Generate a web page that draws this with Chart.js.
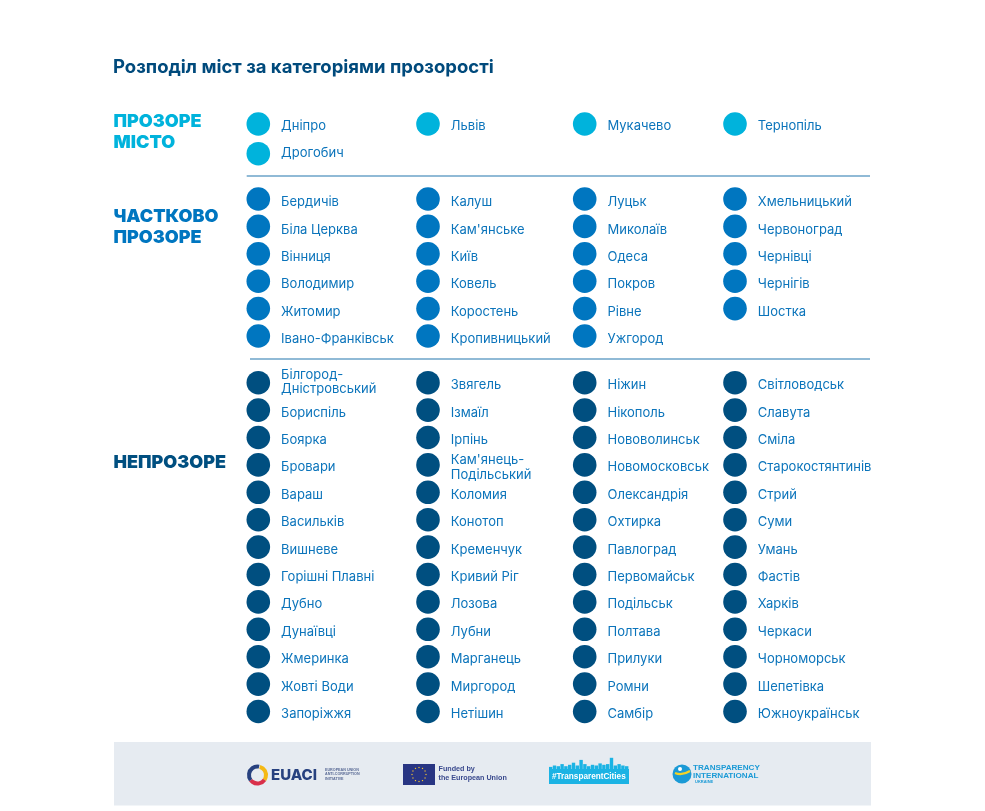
<!DOCTYPE html>
<html lang="uk">
<head>
<meta charset="utf-8">
<title>Розподіл міст за категоріями прозорості</title>
<script src="https://cdn.jsdelivr.net/npm/chart.js@4"></script>
<style>
    html, body { margin: 0; padding: 0; background: #fff; }
    canvas { display: block; }
</style>
</head>
<body>
<canvas id="cities" width="985" height="811"></canvas>
<script>
const chartTitle = 'Розподіл міст за категоріями прозорості';
const categories = [['ПРОЗОРЕ', 'МІСТО'], ['ЧАСТКОВО', 'ПРОЗОРЕ'], ['НЕПРОЗОРЕ']];

const transparentCities = [
    ['Дніпро', 'Дрогобич'],
    ['Львів'],
    ['Мукачево'],
    ['Тернопіль']
];
const partialCities = [
    ['Бердичів', 'Біла Церква', 'Вінниця', 'Володимир', 'Житомир', 'Івано-Франківськ'],
    ['Калуш', "Кам'янське", 'Київ', 'Ковель', 'Коростень', 'Кропивницький'],
    ['Луцьк', 'Миколаїв', 'Одеса', 'Покров', 'Рівне', 'Ужгород'],
    ['Хмельницький', 'Червоноград', 'Чернівці', 'Чернігів', 'Шостка']
];
const opaqueCities = [
    ['Білгород-\nДністровський', 'Бориспіль', 'Боярка', 'Бровари', 'Вараш', 'Васильків', 'Вишневе', 'Горішні Плавні', 'Дубно', 'Дунаївці', 'Жмеринка', 'Жовті Води', 'Запоріжжя'],
    ['Звягель', 'Ізмаїл', 'Ірпінь', "Кам'янець-\nПодільський", 'Коломия', 'Конотоп', 'Кременчук', 'Кривий Ріг', 'Лозова', 'Лубни', 'Марганець', 'Миргород', 'Нетішин'],
    ['Ніжин', 'Нікополь', 'Нововолинськ', 'Новомосковськ', 'Олександрія', 'Охтирка', 'Павлоград', 'Первомайськ', 'Подільськ', 'Полтава', 'Прилуки', 'Ромни', 'Самбір'],
    ['Світловодськ', 'Славута', 'Сміла', 'Старокостянтинів', 'Стрий', 'Суми', 'Умань', 'Фастів', 'Харків', 'Черкаси', 'Чорноморськ', 'Шепетівка', 'Южноукраїнськ']
];

// layout of the sheet, in page pixels
const colDotX = [258.3, 428, 584.7, 735];
const labelGap = 22.8;
const groups = [
    { cities: transparentCities, color: '#00b3dc', dotTop: 124, dotStep: 29.7, labelTop: 126.2, labelStep: 27 },
    { cities: partialCities, color: '#0076c0', dotTop: 199, dotStep: 27.4, labelTop: 202.2, labelStep: 27.4 },
    { cities: opaqueCities, color: '#004f80', dotTop: 382.7, dotStep: 27.4, labelTop: 385.2, labelStep: 27.4 }
];
const categoryLayout = [
    { color: '#00b3dc', lines: [122, 142.4] },
    { color: '#0076c0', lines: [217, 237.4] },
    { color: '#004f80', lines: [463] }
];
const twoLineShift = { 'Білгород-\nДністровський': -3.2, "Кам'янець-\nПодільський": 0.3 };
const skyline = [3, 5, 4, 7, 4, 6, 9, 5, 13, 7, 4, 6, 5, 8, 6, 7, 16, 5, 7, 5, 4];

const dotDatasets = groups.map(group => {
    const points = [];
    group.cities.forEach((column, c) => {
        column.forEach((name, r) => {
            points.push({
                x: colDotX[c],
                y: group.dotTop + r * group.dotStep,
                name: name,
                labelY: group.labelTop + r * group.labelStep
            });
        });
    });
    return {
        data: points,
        pointRadius: 11.8,
        pointHoverRadius: 11.8,
        pointBackgroundColor: group.color,
        pointBorderWidth: 0,
        showLine: false
    };
});

const separator = (x0, x1, y) => ({
    data: [{ x: x0, y: y }, { x: x1, y: y }],
    showLine: true,
    borderColor: '#6ba3c8',
    borderWidth: 1.4,
    pointRadius: 0
});

const sheetText = {
    id: 'sheetText',
    beforeDatasetsDraw(chart) {
        const { ctx } = chart;
        ctx.save();
        // footer band
        ctx.fillStyle = '#e6ebf1';
        ctx.fillRect(114, 742, 757, 63.5);
        drawLogos(ctx);
        ctx.restore();
    },
    afterDatasetsDraw(chart) {
        const { ctx } = chart;
        ctx.save();
        ctx.textBaseline = 'middle';
        ctx.textAlign = 'left';

        ctx.font = 'bold 18.5px Inter';
        ctx.fillStyle = '#004a7c';
        ctx.fillText(chartTitle, 113, 67);

        ctx.font = '900 18px Inter';
        categories.forEach((lines, i) => {
            ctx.fillStyle = categoryLayout[i].color;
            lines.forEach((line, l) => ctx.fillText(line, 113.5, categoryLayout[i].lines[l]));
        });

        ctx.font = '13px Inter';
        dotDatasets.forEach((dataset, g) => {
            ctx.fillStyle = '#0b74bb';
            const meta = chart.getDatasetMeta(g);
            dataset.data.forEach((point, i) => {
                const x = meta.data[i].x + labelGap;
                const lines = point.name.split('\n');
                if (lines.length === 1) {
                    ctx.fillText(point.name, x, point.labelY);
                } else {
                    const shift = twoLineShift[point.name];
                    ctx.fillText(lines[0], x, point.labelY + shift - 7.2);
                    ctx.fillText(lines[1], x, point.labelY + shift + 7.2);
                }
            });
        });
        ctx.restore();
    }
};

function drawLogos(ctx) {
    ctx.textBaseline = 'middle';

    // EUACI
    const arcs = [['#f5b914', -1.3, 0.6], ['#d9304a', 0.6, 2.5], ['#27417f', 2.5, 4.9]];
    arcs.forEach(([color, from, to]) => {
        ctx.beginPath();
        ctx.strokeStyle = color;
        ctx.lineWidth = 4;
        ctx.arc(257.5, 775, 8.5, from, to);
        ctx.stroke();
    });
    ctx.fillStyle = '#27417f';
    ctx.font = '800 15px Inter';
    ctx.fillText('EUACI', 271, 775);
    ctx.font = 'bold 3.7px Liberation Sans';
    ctx.fillStyle = '#5a6b96';
    ctx.fillText('EUROPEAN UNION', 325, 769.5);
    ctx.fillText('ANTI-CORRUPTION', 325, 774);
    ctx.fillText('INITIATIVE', 325, 778.5);

    // EU flag
    ctx.fillStyle = '#283583';
    ctx.fillRect(403, 764, 32, 21);
    ctx.fillStyle = '#f4c430';
    for (let i = 0; i < 12; i++) {
        const a = i * Math.PI / 6;
        ctx.fillRect(419 + Math.cos(a) * 7 - 0.6, 774.5 + Math.sin(a) * 7 - 0.6, 1.2, 1.2);
    }
    ctx.fillStyle = '#3a4a8e';
    ctx.font = 'bold 7.2px Liberation Sans';
    ctx.fillText('Funded by', 438.5, 769.5);
    ctx.fillText('the European Union', 438.5, 778);

    // #TransparentCities
    ctx.fillStyle = '#1bb3e4';
    ctx.fillRect(549, 769, 80, 15);
    skyline.forEach((h, i) => ctx.fillRect(549 + i * 3.8, 769 - h * 0.7, 3.4, h * 0.7 + 1));
    ctx.fillStyle = '#fff';
    ctx.font = 'bold 8.2px Liberation Sans';
    ctx.fillText('#TransparentCities', 552, 777);

    // Transparency International
    ctx.beginPath();
    ctx.fillStyle = '#1b9ad6';
    ctx.arc(682, 774, 9.5, 0, Math.PI * 2);
    ctx.fill();
    ctx.strokeStyle = '#f5d327';
    ctx.lineWidth = 2.2;
    ctx.beginPath();
    ctx.moveTo(675, 773);
    ctx.quadraticCurveTo(682, 776, 690, 771);
    ctx.stroke();
    ctx.fillStyle = '#fff';
    ctx.beginPath();
    ctx.arc(680, 769, 2, 0, Math.PI * 2);
    ctx.fill();
    ctx.fillStyle = '#1b9ad6';
    ctx.font = 'bold 8.1px Liberation Sans';
    ctx.fillText('TRANSPARENCY', 693, 768);
    ctx.fillText('INTERNATIONAL', 693, 775.7);
    ctx.font = 'bold 4px Liberation Sans';
    ctx.fillText('UKRAINE', 695, 782.3);
}

new Chart(document.getElementById('cities').getContext('2d'), {
    type: 'scatter',
    data: {
        datasets: [
            ...dotDatasets,
            separator(246.7, 870, 176),
            separator(250, 870, 359)
        ]
    },
    options: {
        responsive: false,
        animation: false,
        layout: { padding: 0, autoPadding: false },
        plugins: { legend: { display: false }, tooltip: { enabled: false } },
        scales: {
            x: { type: 'linear', min: 0, max: 985, display: false },
            y: { type: 'linear', min: 0, max: 811, reverse: true, display: false }
        }
    },
    plugins: [sheetText]
});
</script>
</body>
</html>
